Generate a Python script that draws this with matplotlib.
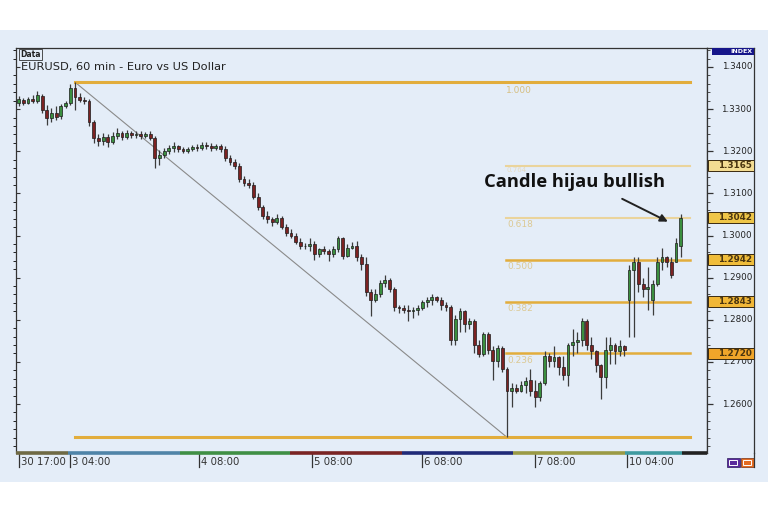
import numpy as np
import matplotlib
matplotlib.use("Agg")
from matplotlib import pyplot as plt
from matplotlib.patches import Rectangle
from matplotlib.lines import Line2D

#-------------data: EURUSD 60 min candles-------------
opens = [1.3315, 1.3322, 1.3315, 1.3324, 1.3320, 1.3331, 1.3298, 1.3279, 1.3291, 1.3284,
         1.3308, 1.3315, 1.3350, 1.3329, 1.3322, 1.3320, 1.3270, 1.3232, 1.3225, 1.3234,
         1.3223, 1.3237, 1.3244, 1.3234, 1.3244, 1.3239, 1.3241, 1.3237, 1.3241, 1.3232,
         1.3185, 1.3192, 1.3201, 1.3208, 1.3213, 1.3206, 1.3201, 1.3206, 1.3211, 1.3208,
         1.3215, 1.3213, 1.3208, 1.3213, 1.3206, 1.3185, 1.3175, 1.3166, 1.3135, 1.3125,
         1.3121, 1.3092, 1.3068, 1.3047, 1.3038, 1.3033, 1.3042, 1.3021, 1.3007, 1.3000,
         1.2985, 1.2974, 1.2976, 1.2981, 1.2957, 1.2967, 1.2964, 1.2955, 1.2969, 1.2993,
         1.2952, 1.2971, 1.2976, 1.2948, 1.2933, 1.2865, 1.2848, 1.2860, 1.2888, 1.2895,
         1.2872, 1.2831, 1.2827, 1.2824, 1.2820, 1.2824, 1.2829, 1.2841, 1.2848, 1.2853,
         1.2848, 1.2836, 1.2831, 1.2753, 1.2801, 1.2820, 1.2789, 1.2796, 1.2741, 1.2718,
         1.2765, 1.2729, 1.2701, 1.2734, 1.2682, 1.2630, 1.2639, 1.2632, 1.2644, 1.2658,
         1.2630, 1.2616, 1.2649, 1.2713, 1.2701, 1.2711, 1.2687, 1.2670, 1.2741, 1.2748,
         1.2753, 1.2796, 1.2741, 1.2725, 1.2692, 1.2663, 1.2729, 1.2741, 1.2725, 1.2737,
         1.2848, 1.2919, 1.2938, 1.2884, 1.2872, 1.2848, 1.2886, 1.2938, 1.2948, 1.2938,
         1.2938, 1.2976]
highs = [1.3331, 1.3327, 1.3329, 1.3334, 1.3343, 1.3336, 1.3310, 1.3303, 1.3308, 1.3313,
         1.3320, 1.3360, 1.3364, 1.3339, 1.3329, 1.3324, 1.3275, 1.3241, 1.3244, 1.3241,
         1.3246, 1.3256, 1.3249, 1.3251, 1.3249, 1.3249, 1.3249, 1.3246, 1.3249, 1.3237,
         1.3204, 1.3208, 1.3215, 1.3223, 1.3215, 1.3211, 1.3211, 1.3215, 1.3218, 1.3223,
         1.3223, 1.3220, 1.3218, 1.3218, 1.3213, 1.3192, 1.3182, 1.3173, 1.3142, 1.3135,
         1.3128, 1.3102, 1.3073, 1.3059, 1.3045, 1.3052, 1.3047, 1.3028, 1.3016, 1.3007,
         1.2995, 1.2983, 1.2995, 1.2988, 1.2971, 1.2974, 1.2969, 1.2976, 1.3000, 1.2997,
         1.2981, 1.2985, 1.2988, 1.2955, 1.2948, 1.2872, 1.2872, 1.2895, 1.2907, 1.2900,
         1.2877, 1.2836, 1.2834, 1.2834, 1.2831, 1.2836, 1.2848, 1.2855, 1.2860, 1.2857,
         1.2853, 1.2843, 1.2836, 1.2812, 1.2829, 1.2824, 1.2805, 1.2801, 1.2753, 1.2772,
         1.2772, 1.2737, 1.2741, 1.2737, 1.2687, 1.2651, 1.2647, 1.2654, 1.2663, 1.2682,
         1.2658, 1.2654, 1.2725, 1.2720, 1.2737, 1.2715, 1.2713, 1.2746, 1.2777, 1.2770,
         1.2805, 1.2801, 1.2758, 1.2729, 1.2696, 1.2758, 1.2758, 1.2746, 1.2753, 1.2741,
         1.2931, 1.2950, 1.2948, 1.2900, 1.2926, 1.2895, 1.2948, 1.2971, 1.2952, 1.2948,
         1.2995, 1.3052]
lows = [1.3308, 1.3310, 1.3313, 1.3315, 1.3315, 1.3291, 1.3263, 1.3270, 1.3275, 1.3277,
        1.3303, 1.3310, 1.3298, 1.3317, 1.3313, 1.3260, 1.3220, 1.3213, 1.3215, 1.3211,
        1.3218, 1.3230, 1.3227, 1.3230, 1.3232, 1.3232, 1.3230, 1.3232, 1.3227, 1.3161,
        1.3168, 1.3185, 1.3194, 1.3199, 1.3199, 1.3196, 1.3196, 1.3201, 1.3201, 1.3204,
        1.3206, 1.3201, 1.3204, 1.3199, 1.3177, 1.3168, 1.3159, 1.3128, 1.3118, 1.3113,
        1.3087, 1.3061, 1.3040, 1.3030, 1.3023, 1.3028, 1.3016, 1.3000, 1.2993, 1.2981,
        1.2969, 1.2967, 1.2964, 1.2943, 1.2948, 1.2955, 1.2940, 1.2948, 1.2962, 1.2945,
        1.2948, 1.2967, 1.2940, 1.2919, 1.2857, 1.2808, 1.2843, 1.2853, 1.2877, 1.2865,
        1.2820, 1.2817, 1.2817, 1.2796, 1.2805, 1.2812, 1.2822, 1.2831, 1.2836, 1.2841,
        1.2824, 1.2820, 1.2741, 1.2741, 1.2772, 1.2772, 1.2777, 1.2722, 1.2711, 1.2713,
        1.2718, 1.2658, 1.2689, 1.2675, 1.2521, 1.2594, 1.2625, 1.2628, 1.2625, 1.2618,
        1.2592, 1.2606, 1.2644, 1.2689, 1.2689, 1.2668, 1.2658, 1.2642, 1.2713, 1.2722,
        1.2737, 1.2729, 1.2706, 1.2675, 1.2611, 1.2639, 1.2694, 1.2694, 1.2713, 1.2713,
        1.2760, 1.2760, 1.2867, 1.2855, 1.2824, 1.2812, 1.2881, 1.2919, 1.2926, 1.2900,
        1.2936, 1.2948]
closes = [1.3324, 1.3315, 1.3324, 1.3320, 1.3334, 1.3298, 1.3279, 1.3291, 1.3282, 1.3308,
          1.3315, 1.3350, 1.3329, 1.3322, 1.3320, 1.3270, 1.3232, 1.3225, 1.3234, 1.3223,
          1.3237, 1.3244, 1.3234, 1.3244, 1.3239, 1.3241, 1.3237, 1.3241, 1.3232, 1.3185,
          1.3192, 1.3201, 1.3208, 1.3213, 1.3206, 1.3201, 1.3206, 1.3211, 1.3208, 1.3215,
          1.3213, 1.3208, 1.3213, 1.3206, 1.3185, 1.3175, 1.3166, 1.3135, 1.3125, 1.3121,
          1.3092, 1.3068, 1.3047, 1.3038, 1.3033, 1.3042, 1.3021, 1.3007, 1.3000, 1.2985,
          1.2974, 1.2976, 1.2981, 1.2957, 1.2967, 1.2964, 1.2955, 1.2969, 1.2993, 1.2952,
          1.2971, 1.2976, 1.2948, 1.2933, 1.2865, 1.2848, 1.2860, 1.2888, 1.2895, 1.2872,
          1.2831, 1.2827, 1.2824, 1.2820, 1.2824, 1.2829, 1.2841, 1.2848, 1.2853, 1.2848,
          1.2836, 1.2831, 1.2753, 1.2801, 1.2820, 1.2789, 1.2796, 1.2741, 1.2718, 1.2765,
          1.2729, 1.2701, 1.2734, 1.2682, 1.2630, 1.2639, 1.2632, 1.2644, 1.2654, 1.2630,
          1.2616, 1.2649, 1.2713, 1.2701, 1.2711, 1.2687, 1.2670, 1.2741, 1.2748, 1.2753,
          1.2796, 1.2741, 1.2725, 1.2692, 1.2663, 1.2729, 1.2741, 1.2725, 1.2737, 1.2729,
          1.2919, 1.2936, 1.2884, 1.2872, 1.2877, 1.2886, 1.2938, 1.2948, 1.2938, 1.2907,
          1.2983, 1.3042]

#-------------fibonacci levels-------------
swing_high = 1.3364
swing_low = 1.2521
high_bar = 12
low_bar = 104
fib_ratios = [0.236, 0.382, 0.500, 0.618, 0.764]
fib_names = ["0.236", "0.382", "0.500", "0.618", "0.764"]
fib_prices = ["1.2720", "1.2843", "1.2942", "1.3042", "1.3165"]

#-------------axis texts-------------
time_labels = ["30 17:00", "3 04:00", "4 08:00", "5 08:00", "6 08:00", "7 08:00", "10 04:00"]
time_pos = [0, 11, 38.5, 62.5, 86, 110, 129.5]
day_edges = [-0.56, 10.5, 34.4, 57.8, 81.6, 105.3, 129.1, 141.3, 146.6]
day_colors = ["#6f6a45", "#4f84a8", "#3f8f45", "#7a2424", "#1f2a78", "#9a9a45", "#3f9aa0", "#222222"]
price_ticks = [1.26, 1.27, 1.28, 1.29, 1.30, 1.31, 1.32, 1.33, 1.34]

BG = "#e4edf8"
GOLD = "#e2ad3c"
PALE = "#ead49c"
YLO, YHI = 1.24837, 1.34451

W, H = 768, 512
fig = plt.figure(figsize=(W / 100, H / 100), dpi=100, facecolor="white")
# light blue band behind the chart
fig.patches.append(Rectangle((0, 30 / H), 1, (482 - 30) / H, transform=fig.transFigure,
                             facecolor=BG, edgecolor="none", zorder=-10))

ax = fig.add_axes([16 / W, (H - 453) / H, (707 - 16) / W, (453 - 48) / H])
axp = fig.add_axes([707 / W, (H - 453) / H, (754 - 707) / W, (453 - 48) / H], sharey=ax)
for a in (ax, axp):
    a.set_facecolor(BG)
ax.set_xlim(-0.56, 146.6)
ax.set_ylim(YLO, YHI)

#-------------candles-------------
x = np.arange(len(closes))
o = np.array(opens); c = np.array(closes)
hi = np.array(highs); lo = np.array(lows)
ax.vlines(x, lo, hi, color="#3c3c3c", lw=0.9, zorder=3)
up = c >= o
body = np.maximum(np.abs(c - o), 0.00018)
ax.bar(x[up], body[up], bottom=np.minimum(o, c)[up], width=0.6, color="#3b8f3f",
       edgecolor="#1d1d1d", linewidth=0.5, zorder=4)
ax.bar(x[~up], body[~up], bottom=np.minimum(o, c)[~up], width=0.6, color="#7c2222",
       edgecolor="#1d1d1d", linewidth=0.5, zorder=4)

#-------------fibonacci drawing-------------
fib_end = 143
ax.plot([high_bar, low_bar], [swing_high, swing_low], color="#8a8a8a", lw=0.8, zorder=2)
ax.plot([high_bar, fib_end], [swing_high, swing_high], color=GOLD, lw=2.2, zorder=2)
ax.plot([high_bar, fib_end], [swing_low, swing_low], color=GOLD, lw=2.2, zorder=2)
ax.text(103.7, swing_high - 0.0008, "1.000", color="#d6bf82", fontsize=6.5, va="top", zorder=2)
for r, nm in zip(fib_ratios, fib_names):
    lvl = swing_low + r * (swing_high - swing_low)
    col = GOLD if r <= 0.5 else PALE
    ax.plot([103.7, fib_end], [lvl, lvl], color=col, lw=1.8 if r <= 0.5 else 1.5, zorder=2)
    if r < 0.7:
        ax.text(104.0, lvl - 0.0006, nm, color="#dcc994", fontsize=6.5, va="top", zorder=2)
    else:
        ax.text(104.0, lvl - 0.0002, nm, color="#e6dcc0", fontsize=5, va="top", zorder=2)

#-------------annotation-------------
ax.text(118.3, 1.3126, "Candle hijau bullish", fontsize=13.2, fontweight="bold",
        family="Open Sans", color="#111111", ha="center", va="center", zorder=6)
ax.annotate("", xy=(138.8, 1.3030), xytext=(128.0, 1.3090),
            arrowprops=dict(arrowstyle="-|>", color="#222222", lw=1.4, mutation_scale=11), zorder=6)

#-------------main axes cosmetics-------------
for s in ("left", "top", "right"):
    ax.spines[s].set_color("#333333")
    ax.spines[s].set_linewidth(0.9)
ax.spines["bottom"].set_visible(False)
ax.set_xticks([])
ax.tick_params(axis="y", direction="in", length=3, left=True, right=False,
               labelleft=False, color="#333333", width=0.8)
ax.set_yticks(price_ticks)
for i in range(len(day_colors)):
    ax.plot([day_edges[i], day_edges[i + 1]], [YLO, YLO], color=day_colors[i],
            lw=2.6, solid_capstyle="butt", clip_on=False, zorder=7)
for tp, tl in zip(time_pos, time_labels):
    ax.plot([tp, tp], [YLO, YLO - 0.0034], color="#333333", lw=0.9, clip_on=False)
    ax.text(tp + 0.4, YLO - 0.0021, tl, fontsize=7.3, color="#333333", va="center",
            ha="left", clip_on=False)

ax.text(0.6, 1.3400, "EURUSD, 60 min - Euro vs US Dollar", fontsize=8.2, color="#222222",
        va="center", ha="left")
ax.text(0.4, 1.3441, "Data", fontsize=5.5, color="#222222", va="top", ha="left", fontweight="bold",
        bbox=dict(boxstyle="square,pad=0.15", facecolor=BG, edgecolor="#333333", lw=0.6))

#-------------price scale-------------
axp.set_xlim(0, 1)
axp.set_xticks([])
for s in ("left", "top", "right"):
    axp.spines[s].set_color("#333333")
    axp.spines[s].set_linewidth(0.9)
axp.spines["bottom"].set_visible(False)
axp.tick_params(axis="y", which="both", direction="in", left=True, right=False,
                labelleft=False, color="#333333")
axp.tick_params(axis="y", which="major", length=4, width=0.9)
axp.tick_params(axis="y", which="minor", length=2, width=0.6)
axp.set_yticks(np.arange(1.250, 1.345, 0.002), minor=True)
for p in price_ticks:
    axp.text(0.96, p, "%.4f" % p, fontsize=6.3, color="#222222", ha="right", va="center")
box_colors = ["#f0a52a", "#f1b737", "#f0bd3a", "#efc648", "#f3dc92"]
for r, pl, bc in zip(fib_ratios, fib_prices, box_colors):
    lvl = swing_low + r * (swing_high - swing_low)
    axp.add_patch(Rectangle((0.02, lvl - 0.0013), 0.98, 0.0026, facecolor=bc,
                            edgecolor="#3a2a10", lw=0.7, zorder=5))
    axp.text(0.96, lvl, pl, fontsize=6.3, color="#4a3510", ha="right", va="center",
             fontweight="bold", zorder=6)
axp.add_patch(Rectangle((0.1, 1.3428), 0.9, 0.0017, facecolor="#16168a", edgecolor="none",
                        zorder=5, clip_on=False))
axp.text(0.96, 1.34365, "INDEX", fontsize=4.5, color="white", ha="right", va="center",
         fontweight="bold", zorder=6)

# outer right line down to the small icons
fig.lines.append(Line2D([754 / W, 754 / W], [(H - 467) / H, (H - 453) / H],
                        transform=fig.transFigure, color="#333333", lw=0.9))
fig.patches.append(Rectangle((727 / W, (H - 467) / H), 13 / W, 9 / H, transform=fig.transFigure,
                             facecolor="#5a2a9c", edgecolor="#2a1a5a", lw=0.5))
fig.patches.append(Rectangle((741 / W, (H - 467) / H), 13 / W, 9 / H, transform=fig.transFigure,
                             facecolor="#e36b22", edgecolor="#7a3010", lw=0.5))
for xx in (729, 743):
    fig.patches.append(Rectangle((xx / W, (H - 465) / H), 8 / W, 5 / H, transform=fig.transFigure,
                                 facecolor="none", edgecolor="white", lw=0.7))

fig.savefig("out.png", dpi=100, facecolor="white")
